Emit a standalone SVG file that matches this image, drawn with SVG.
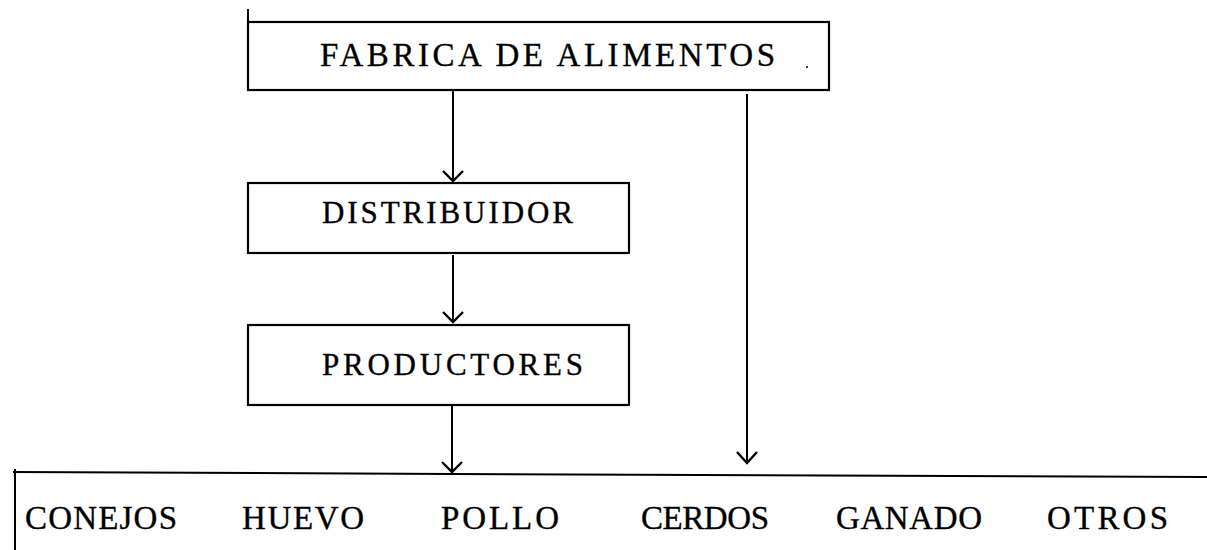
<svg xmlns="http://www.w3.org/2000/svg" width="1207" height="550" viewBox="0 0 1207 550">
<style>
.box{fill:#fff;stroke:#000;stroke-width:2.2}
.ln{stroke:#000;stroke-width:2;fill:none}
.hd{stroke:#000;stroke-width:2.4;fill:none}
.t{font-family:"Liberation Serif","Times New Roman",serif;fill:#000;stroke:#000;stroke-width:0.35}
.tb{font-size:31px}
.tt{font-size:33px}
.tr{font-size:33px}
</style>
<rect width="1207" height="550" fill="#fff"/>
<g id="connectors">
<line class="ln" x1="453" y1="91" x2="453" y2="181"/>
<polyline class="hd" points="443,171 453,181 463,171"/>
<line class="ln" x1="453" y1="255" x2="453" y2="322"/>
<polyline class="hd" points="443,312 453,322 463,312"/>
<line class="ln" x1="452" y1="406" x2="452" y2="472"/>
<polyline class="hd" points="442,462 452,472 462,462"/>
<line class="ln" x1="747" y1="94" x2="747" y2="463"/>
<polyline class="hd" points="737,452 747,463 757,452"/>
</g>
<g id="fabrica">
<line class="ln" x1="248" y1="9" x2="248" y2="22"/>
<rect class="box" x="248" y="22" width="581" height="68"/>
<line class="ln" x1="248" y1="90" x2="829" y2="90" stroke-width="3"/>
<text class="t tt" x="320" y="66" textLength="455" lengthAdjust="spacing">FABRICA DE ALIMENTOS</text>
<circle cx="807" cy="67" r="1" fill="#000"/>
</g>
<g id="distribuidor">
<rect class="box" x="248" y="183" width="381" height="70"/>
<text class="t tb" x="322" y="223" textLength="251" lengthAdjust="spacing">DISTRIBUIDOR</text>
</g>
<g id="productores">
<rect class="box" x="248" y="325" width="381" height="80"/>
<text class="t tb" x="322" y="375" textLength="261" lengthAdjust="spacing">PRODUCTORES</text>
</g>
<g id="categorias">
<polyline class="ln" points="13,472 452,474 1207,477" stroke-width="2.2"/>
<line class="ln" x1="15" y1="469" x2="15" y2="550"/>
<text class="t tr" x="25" y="529" textLength="152" lengthAdjust="spacing">CONEJOS</text>
<text class="t tr" x="242" y="529" textLength="122" lengthAdjust="spacing">HUEVO</text>
<text class="t tr" x="441" y="529" textLength="118" lengthAdjust="spacing">POLLO</text>
<text class="t tr" x="641" y="529" textLength="128" lengthAdjust="spacing">CERDOS</text>
<text class="t tr" x="836" y="529" textLength="146" lengthAdjust="spacing">GANADO</text>
<text class="t tr" x="1047" y="529" textLength="121" lengthAdjust="spacing">OTROS</text>
</g>
</svg>
